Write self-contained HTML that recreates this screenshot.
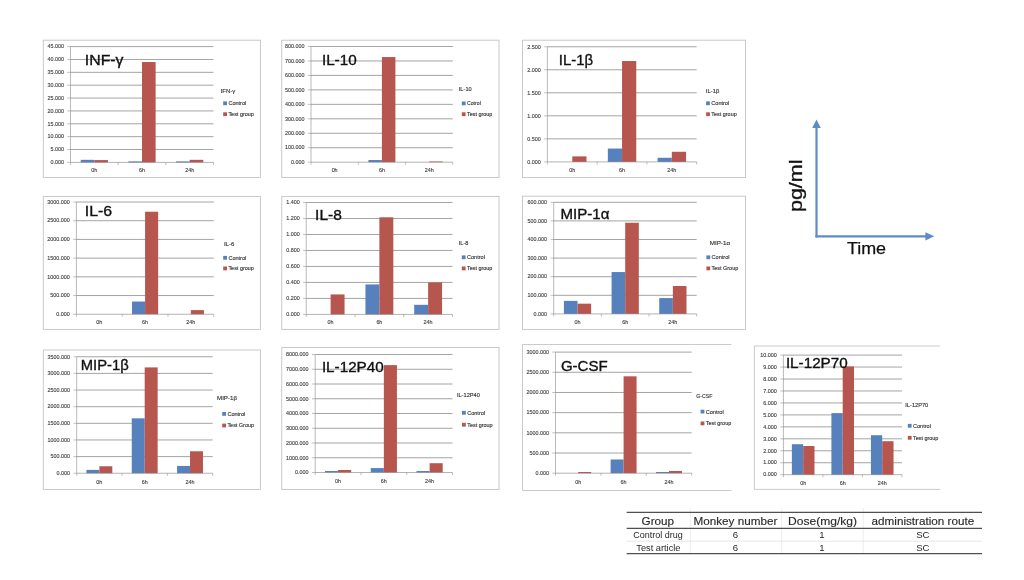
<!DOCTYPE html>
<html lang="en"><head><meta charset="utf-8"><title>Cytokine charts</title>
<style>
html,body{margin:0;padding:0;background:#fff;}
body{width:1024px;height:580px;overflow:hidden;}
svg{display:block;filter:blur(0.35px);}
.ax{font-family:"Liberation Sans", sans-serif;font-size:5.4px;fill:#404040;stroke:#404040;stroke-width:0.12px;}
.lg{font-family:"Liberation Sans", sans-serif;font-size:5.5px;fill:#383838;stroke:#383838;stroke-width:0.15px;}
.tt{font-family:"Liberation Sans", sans-serif;fill:#111;font-size:14.6px;stroke:#111;stroke-width:0.35px;}
</style></head><body>
<svg width="1024" height="580" viewBox="0 0 1024 580">
<rect width="1024" height="580" fill="#fff"/>
<rect x="43.3" y="40.2" width="217.09999999999997" height="137.3" fill="#fff" stroke="#c4c4c4" stroke-width="0.9"/>
<line x1="67.3" y1="162.40" x2="70.5" y2="162.40" stroke="#808080" stroke-width="0.5"/>
<text x="63.9" y="164.15" text-anchor="end" class="ax">0.000</text>
<line x1="70.5" y1="149.53" x2="213.5" y2="149.53" stroke="#808080" stroke-width="0.72"/>
<line x1="67.3" y1="149.53" x2="70.5" y2="149.53" stroke="#808080" stroke-width="0.5"/>
<text x="63.9" y="151.28" text-anchor="end" class="ax">5.000</text>
<line x1="70.5" y1="136.67" x2="213.5" y2="136.67" stroke="#808080" stroke-width="0.72"/>
<line x1="67.3" y1="136.67" x2="70.5" y2="136.67" stroke="#808080" stroke-width="0.5"/>
<text x="63.9" y="138.42" text-anchor="end" class="ax">10.000</text>
<line x1="70.5" y1="123.80" x2="213.5" y2="123.80" stroke="#808080" stroke-width="0.72"/>
<line x1="67.3" y1="123.80" x2="70.5" y2="123.80" stroke="#808080" stroke-width="0.5"/>
<text x="63.9" y="125.55" text-anchor="end" class="ax">15.000</text>
<line x1="70.5" y1="110.93" x2="213.5" y2="110.93" stroke="#808080" stroke-width="0.72"/>
<line x1="67.3" y1="110.93" x2="70.5" y2="110.93" stroke="#808080" stroke-width="0.5"/>
<text x="63.9" y="112.68" text-anchor="end" class="ax">20.000</text>
<line x1="70.5" y1="98.07" x2="213.5" y2="98.07" stroke="#808080" stroke-width="0.72"/>
<line x1="67.3" y1="98.07" x2="70.5" y2="98.07" stroke="#808080" stroke-width="0.5"/>
<text x="63.9" y="99.82" text-anchor="end" class="ax">25.000</text>
<line x1="70.5" y1="85.20" x2="213.5" y2="85.20" stroke="#808080" stroke-width="0.72"/>
<line x1="67.3" y1="85.20" x2="70.5" y2="85.20" stroke="#808080" stroke-width="0.5"/>
<text x="63.9" y="86.95" text-anchor="end" class="ax">30.000</text>
<line x1="70.5" y1="72.33" x2="213.5" y2="72.33" stroke="#808080" stroke-width="0.72"/>
<line x1="67.3" y1="72.33" x2="70.5" y2="72.33" stroke="#808080" stroke-width="0.5"/>
<text x="63.9" y="74.08" text-anchor="end" class="ax">35.000</text>
<line x1="70.5" y1="59.47" x2="213.5" y2="59.47" stroke="#808080" stroke-width="0.72"/>
<line x1="67.3" y1="59.47" x2="70.5" y2="59.47" stroke="#808080" stroke-width="0.5"/>
<text x="63.9" y="61.22" text-anchor="end" class="ax">40.000</text>
<line x1="70.5" y1="46.60" x2="213.5" y2="46.60" stroke="#808080" stroke-width="0.72"/>
<line x1="67.3" y1="46.60" x2="70.5" y2="46.60" stroke="#808080" stroke-width="0.5"/>
<text x="63.9" y="48.35" text-anchor="end" class="ax">45.000</text>
<rect x="80.71" y="159.83" width="13.62" height="2.57" fill="#5781bc"/>
<rect x="94.33" y="160.08" width="13.62" height="2.32" fill="#b6564f"/>
<text x="94.33" y="172.0" text-anchor="middle" class="ax">0h</text>
<rect x="128.38" y="161.37" width="13.62" height="1.03" fill="#5781bc"/>
<rect x="142.00" y="62.04" width="13.62" height="100.36" fill="#b6564f"/>
<text x="142.00" y="172.0" text-anchor="middle" class="ax">6h</text>
<rect x="176.05" y="161.37" width="13.62" height="1.03" fill="#5781bc"/>
<rect x="189.67" y="159.83" width="13.62" height="2.57" fill="#b6564f"/>
<text x="189.67" y="172.0" text-anchor="middle" class="ax">24h</text>
<line x1="70.5" y1="46.6" x2="70.5" y2="162.4" stroke="#808080" stroke-width="0.55"/>
<line x1="70.5" y1="162.4" x2="213.5" y2="162.4" stroke="#808080" stroke-width="0.6"/>
<line x1="70.50" y1="162.4" x2="70.50" y2="165.0" stroke="#808080" stroke-width="0.5"/>
<line x1="118.17" y1="162.4" x2="118.17" y2="165.0" stroke="#808080" stroke-width="0.5"/>
<line x1="165.83" y1="162.4" x2="165.83" y2="165.0" stroke="#808080" stroke-width="0.5"/>
<line x1="213.50" y1="162.4" x2="213.50" y2="165.0" stroke="#808080" stroke-width="0.5"/>
<text x="220.7" y="92.9" class="lg" textLength="14.6" lengthAdjust="spacingAndGlyphs">IFN-γ</text>
<rect x="223.2" y="101.39999999999999" width="3.8" height="3.8" fill="#5781bc"/>
<text x="228.39999999999998" y="105.2" class="lg" textLength="17.9" lengthAdjust="spacingAndGlyphs">Control</text>
<rect x="223.2" y="112.3" width="3.8" height="3.8" fill="#b6564f"/>
<text x="228.39999999999998" y="116.10000000000001" class="lg" textLength="25.4" lengthAdjust="spacingAndGlyphs">Test group</text>
<text x="84.80" y="64.75" class="tt" textLength="38.7" lengthAdjust="spacingAndGlyphs">INF-γ</text>
<rect x="281.75" y="40.2" width="217.25" height="137.3" fill="#fff" stroke="#c4c4c4" stroke-width="0.9"/>
<line x1="307.8" y1="162.20" x2="311" y2="162.20" stroke="#808080" stroke-width="0.5"/>
<text x="304.4" y="163.95" text-anchor="end" class="ax">0.000</text>
<line x1="311" y1="147.74" x2="452.8" y2="147.74" stroke="#808080" stroke-width="0.72"/>
<line x1="307.8" y1="147.74" x2="311" y2="147.74" stroke="#808080" stroke-width="0.5"/>
<text x="304.4" y="149.49" text-anchor="end" class="ax">100.000</text>
<line x1="311" y1="133.27" x2="452.8" y2="133.27" stroke="#808080" stroke-width="0.72"/>
<line x1="307.8" y1="133.27" x2="311" y2="133.27" stroke="#808080" stroke-width="0.5"/>
<text x="304.4" y="135.02" text-anchor="end" class="ax">200.000</text>
<line x1="311" y1="118.81" x2="452.8" y2="118.81" stroke="#808080" stroke-width="0.72"/>
<line x1="307.8" y1="118.81" x2="311" y2="118.81" stroke="#808080" stroke-width="0.5"/>
<text x="304.4" y="120.56" text-anchor="end" class="ax">300.000</text>
<line x1="311" y1="104.35" x2="452.8" y2="104.35" stroke="#808080" stroke-width="0.72"/>
<line x1="307.8" y1="104.35" x2="311" y2="104.35" stroke="#808080" stroke-width="0.5"/>
<text x="304.4" y="106.10" text-anchor="end" class="ax">400.000</text>
<line x1="311" y1="89.89" x2="452.8" y2="89.89" stroke="#808080" stroke-width="0.72"/>
<line x1="307.8" y1="89.89" x2="311" y2="89.89" stroke="#808080" stroke-width="0.5"/>
<text x="304.4" y="91.64" text-anchor="end" class="ax">500.000</text>
<line x1="311" y1="75.42" x2="452.8" y2="75.42" stroke="#808080" stroke-width="0.72"/>
<line x1="307.8" y1="75.42" x2="311" y2="75.42" stroke="#808080" stroke-width="0.5"/>
<text x="304.4" y="77.17" text-anchor="end" class="ax">600.000</text>
<line x1="311" y1="60.96" x2="452.8" y2="60.96" stroke="#808080" stroke-width="0.72"/>
<line x1="307.8" y1="60.96" x2="311" y2="60.96" stroke="#808080" stroke-width="0.5"/>
<text x="304.4" y="62.71" text-anchor="end" class="ax">700.000</text>
<line x1="311" y1="46.50" x2="452.8" y2="46.50" stroke="#808080" stroke-width="0.72"/>
<line x1="307.8" y1="46.50" x2="311" y2="46.50" stroke="#808080" stroke-width="0.5"/>
<text x="304.4" y="48.25" text-anchor="end" class="ax">800.000</text>
<text x="334.63" y="172.0" text-anchor="middle" class="ax">0h</text>
<rect x="368.40" y="160.03" width="13.50" height="2.17" fill="#5781bc"/>
<rect x="381.90" y="57.06" width="13.50" height="105.14" fill="#b6564f"/>
<text x="381.90" y="172.0" text-anchor="middle" class="ax">6h</text>
<rect x="429.17" y="161.48" width="13.50" height="0.72" fill="#b6564f"/>
<text x="429.17" y="172.0" text-anchor="middle" class="ax">24h</text>
<line x1="311" y1="46.5" x2="311" y2="162.2" stroke="#808080" stroke-width="0.55"/>
<line x1="311" y1="162.2" x2="452.8" y2="162.2" stroke="#808080" stroke-width="0.6"/>
<line x1="311.00" y1="162.2" x2="311.00" y2="164.79999999999998" stroke="#808080" stroke-width="0.5"/>
<line x1="358.27" y1="162.2" x2="358.27" y2="164.79999999999998" stroke="#808080" stroke-width="0.5"/>
<line x1="405.53" y1="162.2" x2="405.53" y2="164.79999999999998" stroke="#808080" stroke-width="0.5"/>
<line x1="452.80" y1="162.2" x2="452.80" y2="164.79999999999998" stroke="#808080" stroke-width="0.5"/>
<text x="458.8" y="90.7" class="lg" textLength="12.9" lengthAdjust="spacingAndGlyphs">IL-10</text>
<rect x="461.8" y="101.5" width="3.8" height="3.8" fill="#5781bc"/>
<text x="467.0" y="105.30000000000001" class="lg" textLength="13.8" lengthAdjust="spacingAndGlyphs">Cotrol</text>
<rect x="461.8" y="112.3" width="3.8" height="3.8" fill="#b6564f"/>
<text x="467.0" y="116.10000000000001" class="lg" textLength="25.4" lengthAdjust="spacingAndGlyphs">Test group</text>
<text x="321.90" y="64.75" class="tt" textLength="34.8" lengthAdjust="spacingAndGlyphs">IL-10</text>
<rect x="522.5" y="40.2" width="223.10000000000002" height="137.3" fill="#fff" stroke="#c4c4c4" stroke-width="0.9"/>
<line x1="544.1999999999999" y1="161.90" x2="547.4" y2="161.90" stroke="#808080" stroke-width="0.5"/>
<text x="540.8" y="163.65" text-anchor="end" class="ax">0.000</text>
<line x1="547.4" y1="138.87" x2="696.7" y2="138.87" stroke="#808080" stroke-width="0.72"/>
<line x1="544.1999999999999" y1="138.87" x2="547.4" y2="138.87" stroke="#808080" stroke-width="0.5"/>
<text x="540.8" y="140.62" text-anchor="end" class="ax">0.500</text>
<line x1="547.4" y1="115.84" x2="696.7" y2="115.84" stroke="#808080" stroke-width="0.72"/>
<line x1="544.1999999999999" y1="115.84" x2="547.4" y2="115.84" stroke="#808080" stroke-width="0.5"/>
<text x="540.8" y="117.59" text-anchor="end" class="ax">1.000</text>
<line x1="547.4" y1="92.81" x2="696.7" y2="92.81" stroke="#808080" stroke-width="0.72"/>
<line x1="544.1999999999999" y1="92.81" x2="547.4" y2="92.81" stroke="#808080" stroke-width="0.5"/>
<text x="540.8" y="94.56" text-anchor="end" class="ax">1.500</text>
<line x1="547.4" y1="69.78" x2="696.7" y2="69.78" stroke="#808080" stroke-width="0.72"/>
<line x1="544.1999999999999" y1="69.78" x2="547.4" y2="69.78" stroke="#808080" stroke-width="0.5"/>
<text x="540.8" y="71.53" text-anchor="end" class="ax">2.000</text>
<line x1="547.4" y1="46.75" x2="696.7" y2="46.75" stroke="#808080" stroke-width="0.72"/>
<line x1="544.1999999999999" y1="46.75" x2="547.4" y2="46.75" stroke="#808080" stroke-width="0.5"/>
<text x="540.8" y="48.50" text-anchor="end" class="ax">2.500</text>
<rect x="572.28" y="156.37" width="14.22" height="5.53" fill="#b6564f"/>
<text x="572.28" y="172.0" text-anchor="middle" class="ax">0h</text>
<rect x="607.83" y="148.54" width="14.22" height="13.36" fill="#5781bc"/>
<rect x="622.05" y="61.03" width="14.22" height="100.87" fill="#b6564f"/>
<text x="622.05" y="172.0" text-anchor="middle" class="ax">6h</text>
<rect x="657.60" y="157.75" width="14.22" height="4.15" fill="#5781bc"/>
<rect x="671.82" y="151.77" width="14.22" height="10.13" fill="#b6564f"/>
<text x="671.82" y="172.0" text-anchor="middle" class="ax">24h</text>
<line x1="547.4" y1="46.75" x2="547.4" y2="161.9" stroke="#808080" stroke-width="0.55"/>
<line x1="547.4" y1="161.9" x2="696.7" y2="161.9" stroke="#808080" stroke-width="0.6"/>
<line x1="547.40" y1="161.9" x2="547.40" y2="164.5" stroke="#808080" stroke-width="0.5"/>
<line x1="597.17" y1="161.9" x2="597.17" y2="164.5" stroke="#808080" stroke-width="0.5"/>
<line x1="646.93" y1="161.9" x2="646.93" y2="164.5" stroke="#808080" stroke-width="0.5"/>
<line x1="696.70" y1="161.9" x2="696.70" y2="164.5" stroke="#808080" stroke-width="0.5"/>
<text x="705.8" y="92.9" class="lg" textLength="13.5" lengthAdjust="spacingAndGlyphs">IL-1β</text>
<rect x="706.1" y="101.39999999999999" width="3.8" height="3.8" fill="#5781bc"/>
<text x="711.3000000000001" y="105.2" class="lg" textLength="17.9" lengthAdjust="spacingAndGlyphs">Control</text>
<rect x="706.1" y="112.3" width="3.8" height="3.8" fill="#b6564f"/>
<text x="711.3000000000001" y="116.10000000000001" class="lg" textLength="25.4" lengthAdjust="spacingAndGlyphs">Test group</text>
<text x="558.80" y="64.75" class="tt" textLength="34.3" lengthAdjust="spacingAndGlyphs">IL-1β</text>
<rect x="43.3" y="196.4" width="217.09999999999997" height="132.99999999999997" fill="#fff" stroke="#c4c4c4" stroke-width="0.9"/>
<line x1="73.2" y1="314.25" x2="76.4" y2="314.25" stroke="#808080" stroke-width="0.5"/>
<text x="69.80000000000001" y="316.00" text-anchor="end" class="ax">0.000</text>
<line x1="76.4" y1="295.54" x2="213.75" y2="295.54" stroke="#808080" stroke-width="0.72"/>
<line x1="73.2" y1="295.54" x2="76.4" y2="295.54" stroke="#808080" stroke-width="0.5"/>
<text x="69.80000000000001" y="297.29" text-anchor="end" class="ax">500.000</text>
<line x1="76.4" y1="276.83" x2="213.75" y2="276.83" stroke="#808080" stroke-width="0.72"/>
<line x1="73.2" y1="276.83" x2="76.4" y2="276.83" stroke="#808080" stroke-width="0.5"/>
<text x="69.80000000000001" y="278.58" text-anchor="end" class="ax">1000.000</text>
<line x1="76.4" y1="258.12" x2="213.75" y2="258.12" stroke="#808080" stroke-width="0.72"/>
<line x1="73.2" y1="258.12" x2="76.4" y2="258.12" stroke="#808080" stroke-width="0.5"/>
<text x="69.80000000000001" y="259.88" text-anchor="end" class="ax">1500.000</text>
<line x1="76.4" y1="239.42" x2="213.75" y2="239.42" stroke="#808080" stroke-width="0.72"/>
<line x1="73.2" y1="239.42" x2="76.4" y2="239.42" stroke="#808080" stroke-width="0.5"/>
<text x="69.80000000000001" y="241.17" text-anchor="end" class="ax">2000.000</text>
<line x1="76.4" y1="220.71" x2="213.75" y2="220.71" stroke="#808080" stroke-width="0.72"/>
<line x1="73.2" y1="220.71" x2="76.4" y2="220.71" stroke="#808080" stroke-width="0.5"/>
<text x="69.80000000000001" y="222.46" text-anchor="end" class="ax">2500.000</text>
<line x1="76.4" y1="202.00" x2="213.75" y2="202.00" stroke="#808080" stroke-width="0.72"/>
<line x1="73.2" y1="202.00" x2="76.4" y2="202.00" stroke="#808080" stroke-width="0.5"/>
<text x="69.80000000000001" y="203.75" text-anchor="end" class="ax">3000.000</text>
<text x="99.29" y="324.0" text-anchor="middle" class="ax">0h</text>
<rect x="131.99" y="301.53" width="13.08" height="12.72" fill="#5781bc"/>
<rect x="145.07" y="211.73" width="13.08" height="102.52" fill="#b6564f"/>
<text x="145.07" y="324.0" text-anchor="middle" class="ax">6h</text>
<rect x="190.86" y="310.13" width="13.08" height="4.12" fill="#b6564f"/>
<text x="190.86" y="324.0" text-anchor="middle" class="ax">24h</text>
<line x1="76.4" y1="202" x2="76.4" y2="314.25" stroke="#808080" stroke-width="0.55"/>
<line x1="76.4" y1="314.25" x2="213.75" y2="314.25" stroke="#808080" stroke-width="0.6"/>
<line x1="76.40" y1="314.25" x2="76.40" y2="316.85" stroke="#808080" stroke-width="0.5"/>
<line x1="122.18" y1="314.25" x2="122.18" y2="316.85" stroke="#808080" stroke-width="0.5"/>
<line x1="167.97" y1="314.25" x2="167.97" y2="316.85" stroke="#808080" stroke-width="0.5"/>
<line x1="213.75" y1="314.25" x2="213.75" y2="316.85" stroke="#808080" stroke-width="0.5"/>
<text x="223.9" y="245.9" class="lg" textLength="10.4" lengthAdjust="spacingAndGlyphs">IL-6</text>
<rect x="223.2" y="255.9" width="3.8" height="3.8" fill="#5781bc"/>
<text x="228.39999999999998" y="259.7" class="lg" textLength="17.9" lengthAdjust="spacingAndGlyphs">Control</text>
<rect x="223.2" y="266.5" width="3.8" height="3.8" fill="#b6564f"/>
<text x="228.39999999999998" y="270.29999999999995" class="lg" textLength="25.4" lengthAdjust="spacingAndGlyphs">Test group</text>
<text x="84.80" y="216.1" class="tt" textLength="27.4" lengthAdjust="spacingAndGlyphs">IL-6</text>
<rect x="281.75" y="196.4" width="217.25" height="132.99999999999997" fill="#fff" stroke="#c4c4c4" stroke-width="0.9"/>
<line x1="303.05" y1="314.40" x2="306.25" y2="314.40" stroke="#808080" stroke-width="0.5"/>
<text x="299.65" y="316.15" text-anchor="end" class="ax">0.000</text>
<line x1="306.25" y1="298.41" x2="452.5" y2="298.41" stroke="#808080" stroke-width="0.72"/>
<line x1="303.05" y1="298.41" x2="306.25" y2="298.41" stroke="#808080" stroke-width="0.5"/>
<text x="299.65" y="300.16" text-anchor="end" class="ax">0.200</text>
<line x1="306.25" y1="282.43" x2="452.5" y2="282.43" stroke="#808080" stroke-width="0.72"/>
<line x1="303.05" y1="282.43" x2="306.25" y2="282.43" stroke="#808080" stroke-width="0.5"/>
<text x="299.65" y="284.18" text-anchor="end" class="ax">0.400</text>
<line x1="306.25" y1="266.44" x2="452.5" y2="266.44" stroke="#808080" stroke-width="0.72"/>
<line x1="303.05" y1="266.44" x2="306.25" y2="266.44" stroke="#808080" stroke-width="0.5"/>
<text x="299.65" y="268.19" text-anchor="end" class="ax">0.600</text>
<line x1="306.25" y1="250.46" x2="452.5" y2="250.46" stroke="#808080" stroke-width="0.72"/>
<line x1="303.05" y1="250.46" x2="306.25" y2="250.46" stroke="#808080" stroke-width="0.5"/>
<text x="299.65" y="252.21" text-anchor="end" class="ax">0.800</text>
<line x1="306.25" y1="234.47" x2="452.5" y2="234.47" stroke="#808080" stroke-width="0.72"/>
<line x1="303.05" y1="234.47" x2="306.25" y2="234.47" stroke="#808080" stroke-width="0.5"/>
<text x="299.65" y="236.22" text-anchor="end" class="ax">1.000</text>
<line x1="306.25" y1="218.49" x2="452.5" y2="218.49" stroke="#808080" stroke-width="0.72"/>
<line x1="303.05" y1="218.49" x2="306.25" y2="218.49" stroke="#808080" stroke-width="0.5"/>
<text x="299.65" y="220.24" text-anchor="end" class="ax">1.200</text>
<line x1="306.25" y1="202.50" x2="452.5" y2="202.50" stroke="#808080" stroke-width="0.72"/>
<line x1="303.05" y1="202.50" x2="306.25" y2="202.50" stroke="#808080" stroke-width="0.5"/>
<text x="299.65" y="204.25" text-anchor="end" class="ax">1.400</text>
<rect x="330.62" y="294.42" width="13.93" height="19.98" fill="#b6564f"/>
<text x="330.62" y="324.0" text-anchor="middle" class="ax">0h</text>
<rect x="365.45" y="284.43" width="13.93" height="29.97" fill="#5781bc"/>
<rect x="379.38" y="217.29" width="13.93" height="97.11" fill="#b6564f"/>
<text x="379.38" y="324.0" text-anchor="middle" class="ax">6h</text>
<rect x="414.20" y="304.81" width="13.93" height="9.59" fill="#5781bc"/>
<rect x="428.12" y="282.43" width="13.93" height="31.97" fill="#b6564f"/>
<text x="428.12" y="324.0" text-anchor="middle" class="ax">24h</text>
<line x1="306.25" y1="202.5" x2="306.25" y2="314.4" stroke="#808080" stroke-width="0.55"/>
<line x1="306.25" y1="314.4" x2="452.5" y2="314.4" stroke="#808080" stroke-width="0.6"/>
<line x1="306.25" y1="314.4" x2="306.25" y2="317.0" stroke="#808080" stroke-width="0.5"/>
<line x1="355.00" y1="314.4" x2="355.00" y2="317.0" stroke="#808080" stroke-width="0.5"/>
<line x1="403.75" y1="314.4" x2="403.75" y2="317.0" stroke="#808080" stroke-width="0.5"/>
<line x1="452.50" y1="314.4" x2="452.50" y2="317.0" stroke="#808080" stroke-width="0.5"/>
<text x="458.8" y="245.0" class="lg" textLength="9.5" lengthAdjust="spacingAndGlyphs">IL-8</text>
<rect x="461.8" y="255.4" width="3.8" height="3.8" fill="#5781bc"/>
<text x="467.0" y="259.2" class="lg" textLength="17.9" lengthAdjust="spacingAndGlyphs">Control</text>
<rect x="461.8" y="266.5" width="3.8" height="3.8" fill="#b6564f"/>
<text x="467.0" y="270.29999999999995" class="lg" textLength="25.4" lengthAdjust="spacingAndGlyphs">Test group</text>
<text x="315.10" y="220.2" class="tt" textLength="26.7" lengthAdjust="spacingAndGlyphs">IL-8</text>
<rect x="522.5" y="196.2" width="223.0" height="133.2" fill="#fff" stroke="#c4c4c4" stroke-width="0.9"/>
<line x1="550.5" y1="313.90" x2="553.7" y2="313.90" stroke="#808080" stroke-width="0.5"/>
<text x="547.1" y="315.65" text-anchor="end" class="ax">0.000</text>
<line x1="553.7" y1="295.30" x2="696.7" y2="295.30" stroke="#808080" stroke-width="0.72"/>
<line x1="550.5" y1="295.30" x2="553.7" y2="295.30" stroke="#808080" stroke-width="0.5"/>
<text x="547.1" y="297.05" text-anchor="end" class="ax">100.000</text>
<line x1="553.7" y1="276.70" x2="696.7" y2="276.70" stroke="#808080" stroke-width="0.72"/>
<line x1="550.5" y1="276.70" x2="553.7" y2="276.70" stroke="#808080" stroke-width="0.5"/>
<text x="547.1" y="278.45" text-anchor="end" class="ax">200.000</text>
<line x1="553.7" y1="258.10" x2="696.7" y2="258.10" stroke="#808080" stroke-width="0.72"/>
<line x1="550.5" y1="258.10" x2="553.7" y2="258.10" stroke="#808080" stroke-width="0.5"/>
<text x="547.1" y="259.85" text-anchor="end" class="ax">300.000</text>
<line x1="553.7" y1="239.50" x2="696.7" y2="239.50" stroke="#808080" stroke-width="0.72"/>
<line x1="550.5" y1="239.50" x2="553.7" y2="239.50" stroke="#808080" stroke-width="0.5"/>
<text x="547.1" y="241.25" text-anchor="end" class="ax">400.000</text>
<line x1="553.7" y1="220.90" x2="696.7" y2="220.90" stroke="#808080" stroke-width="0.72"/>
<line x1="550.5" y1="220.90" x2="553.7" y2="220.90" stroke="#808080" stroke-width="0.5"/>
<text x="547.1" y="222.65" text-anchor="end" class="ax">500.000</text>
<line x1="553.7" y1="202.30" x2="696.7" y2="202.30" stroke="#808080" stroke-width="0.72"/>
<line x1="550.5" y1="202.30" x2="553.7" y2="202.30" stroke="#808080" stroke-width="0.5"/>
<text x="547.1" y="204.05" text-anchor="end" class="ax">600.000</text>
<rect x="563.91" y="300.88" width="13.62" height="13.02" fill="#5781bc"/>
<rect x="577.53" y="303.67" width="13.62" height="10.23" fill="#b6564f"/>
<text x="577.53" y="324.0" text-anchor="middle" class="ax">0h</text>
<rect x="611.58" y="272.05" width="13.62" height="41.85" fill="#5781bc"/>
<rect x="625.20" y="222.76" width="13.62" height="91.14" fill="#b6564f"/>
<text x="625.20" y="324.0" text-anchor="middle" class="ax">6h</text>
<rect x="659.25" y="298.09" width="13.62" height="15.81" fill="#5781bc"/>
<rect x="672.87" y="286.00" width="13.62" height="27.90" fill="#b6564f"/>
<text x="672.87" y="324.0" text-anchor="middle" class="ax">24h</text>
<line x1="553.7" y1="202.3" x2="553.7" y2="313.9" stroke="#808080" stroke-width="0.55"/>
<line x1="553.7" y1="313.9" x2="696.7" y2="313.9" stroke="#808080" stroke-width="0.6"/>
<line x1="553.70" y1="313.9" x2="553.70" y2="316.5" stroke="#808080" stroke-width="0.5"/>
<line x1="601.37" y1="313.9" x2="601.37" y2="316.5" stroke="#808080" stroke-width="0.5"/>
<line x1="649.03" y1="313.9" x2="649.03" y2="316.5" stroke="#808080" stroke-width="0.5"/>
<line x1="696.70" y1="313.9" x2="696.70" y2="316.5" stroke="#808080" stroke-width="0.5"/>
<text x="709.7" y="244.6" class="lg" textLength="20.4" lengthAdjust="spacingAndGlyphs">MIP-1α</text>
<rect x="706.4" y="255.4" width="3.8" height="3.8" fill="#5781bc"/>
<text x="711.6" y="259.2" class="lg" textLength="17.9" lengthAdjust="spacingAndGlyphs">Control</text>
<rect x="706.4" y="266.5" width="3.8" height="3.8" fill="#b6564f"/>
<text x="711.6" y="270.29999999999995" class="lg" textLength="26.6" lengthAdjust="spacingAndGlyphs">Test Group</text>
<text x="560.40" y="218.6" class="tt" textLength="49.0" lengthAdjust="spacingAndGlyphs">MIP-1α</text>
<rect x="43.3" y="350" width="217.09999999999997" height="139.5" fill="#fff" stroke="#c4c4c4" stroke-width="0.9"/>
<line x1="73.5" y1="473.25" x2="76.7" y2="473.25" stroke="#808080" stroke-width="0.5"/>
<text x="70.10000000000001" y="475.00" text-anchor="end" class="ax">0.000</text>
<line x1="76.7" y1="456.61" x2="212.7" y2="456.61" stroke="#808080" stroke-width="0.72"/>
<line x1="73.5" y1="456.61" x2="76.7" y2="456.61" stroke="#808080" stroke-width="0.5"/>
<text x="70.10000000000001" y="458.36" text-anchor="end" class="ax">500.000</text>
<line x1="76.7" y1="439.96" x2="212.7" y2="439.96" stroke="#808080" stroke-width="0.72"/>
<line x1="73.5" y1="439.96" x2="76.7" y2="439.96" stroke="#808080" stroke-width="0.5"/>
<text x="70.10000000000001" y="441.71" text-anchor="end" class="ax">1000.000</text>
<line x1="76.7" y1="423.32" x2="212.7" y2="423.32" stroke="#808080" stroke-width="0.72"/>
<line x1="73.5" y1="423.32" x2="76.7" y2="423.32" stroke="#808080" stroke-width="0.5"/>
<text x="70.10000000000001" y="425.07" text-anchor="end" class="ax">1500.000</text>
<line x1="76.7" y1="406.68" x2="212.7" y2="406.68" stroke="#808080" stroke-width="0.72"/>
<line x1="73.5" y1="406.68" x2="76.7" y2="406.68" stroke="#808080" stroke-width="0.5"/>
<text x="70.10000000000001" y="408.43" text-anchor="end" class="ax">2000.000</text>
<line x1="76.7" y1="390.04" x2="212.7" y2="390.04" stroke="#808080" stroke-width="0.72"/>
<line x1="73.5" y1="390.04" x2="76.7" y2="390.04" stroke="#808080" stroke-width="0.5"/>
<text x="70.10000000000001" y="391.79" text-anchor="end" class="ax">2500.000</text>
<line x1="76.7" y1="373.39" x2="212.7" y2="373.39" stroke="#808080" stroke-width="0.72"/>
<line x1="73.5" y1="373.39" x2="76.7" y2="373.39" stroke="#808080" stroke-width="0.5"/>
<text x="70.10000000000001" y="375.14" text-anchor="end" class="ax">3000.000</text>
<line x1="76.7" y1="356.75" x2="212.7" y2="356.75" stroke="#808080" stroke-width="0.72"/>
<line x1="73.5" y1="356.75" x2="76.7" y2="356.75" stroke="#808080" stroke-width="0.5"/>
<text x="70.10000000000001" y="358.50" text-anchor="end" class="ax">3500.000</text>
<rect x="86.41" y="469.92" width="12.95" height="3.33" fill="#5781bc"/>
<rect x="99.37" y="466.26" width="12.95" height="6.99" fill="#b6564f"/>
<text x="99.37" y="483.5" text-anchor="middle" class="ax">0h</text>
<rect x="131.75" y="418.33" width="12.95" height="54.92" fill="#5781bc"/>
<rect x="144.70" y="367.40" width="12.95" height="105.85" fill="#b6564f"/>
<text x="144.70" y="483.5" text-anchor="middle" class="ax">6h</text>
<rect x="177.08" y="465.93" width="12.95" height="7.32" fill="#5781bc"/>
<rect x="190.03" y="451.28" width="12.95" height="21.97" fill="#b6564f"/>
<text x="190.03" y="483.5" text-anchor="middle" class="ax">24h</text>
<line x1="76.7" y1="356.75" x2="76.7" y2="473.25" stroke="#808080" stroke-width="0.55"/>
<line x1="76.7" y1="473.25" x2="212.7" y2="473.25" stroke="#808080" stroke-width="0.6"/>
<line x1="76.70" y1="473.25" x2="76.70" y2="475.85" stroke="#808080" stroke-width="0.5"/>
<line x1="122.03" y1="473.25" x2="122.03" y2="475.85" stroke="#808080" stroke-width="0.5"/>
<line x1="167.37" y1="473.25" x2="167.37" y2="475.85" stroke="#808080" stroke-width="0.5"/>
<line x1="212.70" y1="473.25" x2="212.70" y2="475.85" stroke="#808080" stroke-width="0.5"/>
<text x="217" y="400.4" class="lg" textLength="20.0" lengthAdjust="spacingAndGlyphs">MIP-1β</text>
<rect x="222.2" y="412.0" width="3.8" height="3.8" fill="#5781bc"/>
<text x="227.39999999999998" y="415.79999999999995" class="lg" textLength="17.9" lengthAdjust="spacingAndGlyphs">Control</text>
<rect x="222.2" y="423.6" width="3.8" height="3.8" fill="#b6564f"/>
<text x="227.39999999999998" y="427.4" class="lg" textLength="26.6" lengthAdjust="spacingAndGlyphs">Test Group</text>
<text x="80.70" y="369.9" class="tt" textLength="48.0" lengthAdjust="spacingAndGlyphs">MIP-1β</text>
<rect x="281.75" y="347.5" width="217.25" height="142.0" fill="#fff" stroke="#c4c4c4" stroke-width="0.9"/>
<line x1="312.0" y1="472.50" x2="315.2" y2="472.50" stroke="#808080" stroke-width="0.5"/>
<text x="308.59999999999997" y="474.25" text-anchor="end" class="ax">0.000</text>
<line x1="315.2" y1="457.75" x2="452.5" y2="457.75" stroke="#808080" stroke-width="0.72"/>
<line x1="312.0" y1="457.75" x2="315.2" y2="457.75" stroke="#808080" stroke-width="0.5"/>
<text x="308.59999999999997" y="459.50" text-anchor="end" class="ax">1000.000</text>
<line x1="315.2" y1="443.00" x2="452.5" y2="443.00" stroke="#808080" stroke-width="0.72"/>
<line x1="312.0" y1="443.00" x2="315.2" y2="443.00" stroke="#808080" stroke-width="0.5"/>
<text x="308.59999999999997" y="444.75" text-anchor="end" class="ax">2000.000</text>
<line x1="315.2" y1="428.25" x2="452.5" y2="428.25" stroke="#808080" stroke-width="0.72"/>
<line x1="312.0" y1="428.25" x2="315.2" y2="428.25" stroke="#808080" stroke-width="0.5"/>
<text x="308.59999999999997" y="430.00" text-anchor="end" class="ax">3000.000</text>
<line x1="315.2" y1="413.50" x2="452.5" y2="413.50" stroke="#808080" stroke-width="0.72"/>
<line x1="312.0" y1="413.50" x2="315.2" y2="413.50" stroke="#808080" stroke-width="0.5"/>
<text x="308.59999999999997" y="415.25" text-anchor="end" class="ax">4000.000</text>
<line x1="315.2" y1="398.75" x2="452.5" y2="398.75" stroke="#808080" stroke-width="0.72"/>
<line x1="312.0" y1="398.75" x2="315.2" y2="398.75" stroke="#808080" stroke-width="0.5"/>
<text x="308.59999999999997" y="400.50" text-anchor="end" class="ax">5000.000</text>
<line x1="315.2" y1="384.00" x2="452.5" y2="384.00" stroke="#808080" stroke-width="0.72"/>
<line x1="312.0" y1="384.00" x2="315.2" y2="384.00" stroke="#808080" stroke-width="0.5"/>
<text x="308.59999999999997" y="385.75" text-anchor="end" class="ax">6000.000</text>
<line x1="315.2" y1="369.25" x2="452.5" y2="369.25" stroke="#808080" stroke-width="0.72"/>
<line x1="312.0" y1="369.25" x2="315.2" y2="369.25" stroke="#808080" stroke-width="0.5"/>
<text x="308.59999999999997" y="371.00" text-anchor="end" class="ax">7000.000</text>
<line x1="315.2" y1="354.50" x2="452.5" y2="354.50" stroke="#808080" stroke-width="0.72"/>
<line x1="312.0" y1="354.50" x2="315.2" y2="354.50" stroke="#808080" stroke-width="0.5"/>
<text x="308.59999999999997" y="356.25" text-anchor="end" class="ax">8000.000</text>
<rect x="325.01" y="471.02" width="13.08" height="1.48" fill="#5781bc"/>
<rect x="338.08" y="469.99" width="13.08" height="2.51" fill="#b6564f"/>
<text x="338.08" y="483.2" text-anchor="middle" class="ax">0h</text>
<rect x="370.77" y="468.07" width="13.08" height="4.42" fill="#5781bc"/>
<rect x="383.85" y="365.12" width="13.08" height="107.38" fill="#b6564f"/>
<text x="383.85" y="483.2" text-anchor="middle" class="ax">6h</text>
<rect x="416.54" y="471.02" width="13.08" height="1.48" fill="#5781bc"/>
<rect x="429.62" y="463.21" width="13.08" height="9.29" fill="#b6564f"/>
<text x="429.62" y="483.2" text-anchor="middle" class="ax">24h</text>
<line x1="315.2" y1="354.5" x2="315.2" y2="472.5" stroke="#808080" stroke-width="0.55"/>
<line x1="315.2" y1="472.5" x2="452.5" y2="472.5" stroke="#808080" stroke-width="0.6"/>
<line x1="315.20" y1="472.5" x2="315.20" y2="475.1" stroke="#808080" stroke-width="0.5"/>
<line x1="360.97" y1="472.5" x2="360.97" y2="475.1" stroke="#808080" stroke-width="0.5"/>
<line x1="406.73" y1="472.5" x2="406.73" y2="475.1" stroke="#808080" stroke-width="0.5"/>
<line x1="452.50" y1="472.5" x2="452.50" y2="475.1" stroke="#808080" stroke-width="0.5"/>
<text x="456.9" y="397.2" class="lg" textLength="23.0" lengthAdjust="spacingAndGlyphs">IL-12P40</text>
<rect x="462" y="410.90000000000003" width="3.8" height="3.8" fill="#5781bc"/>
<text x="467.2" y="414.7" class="lg" textLength="17.9" lengthAdjust="spacingAndGlyphs">Control</text>
<rect x="462" y="422.8" width="3.8" height="3.8" fill="#b6564f"/>
<text x="467.2" y="426.59999999999997" class="lg" textLength="25.4" lengthAdjust="spacingAndGlyphs">Test group</text>
<text x="321.90" y="371.7" class="tt" textLength="61.8" lengthAdjust="spacingAndGlyphs">IL-12P40</text>
<path d="M731.4 344.5H522.5V490.5H731.4" fill="none" stroke="#c4c4c4" stroke-width="0.9"/>
<line x1="552.3" y1="473.20" x2="555.5" y2="473.20" stroke="#808080" stroke-width="0.5"/>
<text x="548.9" y="474.95" text-anchor="end" class="ax">0.000</text>
<line x1="555.5" y1="453.02" x2="691.7" y2="453.02" stroke="#808080" stroke-width="0.72"/>
<line x1="552.3" y1="453.02" x2="555.5" y2="453.02" stroke="#808080" stroke-width="0.5"/>
<text x="548.9" y="454.77" text-anchor="end" class="ax">500.000</text>
<line x1="555.5" y1="432.83" x2="691.7" y2="432.83" stroke="#808080" stroke-width="0.72"/>
<line x1="552.3" y1="432.83" x2="555.5" y2="432.83" stroke="#808080" stroke-width="0.5"/>
<text x="548.9" y="434.58" text-anchor="end" class="ax">1000.000</text>
<line x1="555.5" y1="412.65" x2="691.7" y2="412.65" stroke="#808080" stroke-width="0.72"/>
<line x1="552.3" y1="412.65" x2="555.5" y2="412.65" stroke="#808080" stroke-width="0.5"/>
<text x="548.9" y="414.40" text-anchor="end" class="ax">1500.000</text>
<line x1="555.5" y1="392.47" x2="691.7" y2="392.47" stroke="#808080" stroke-width="0.72"/>
<line x1="552.3" y1="392.47" x2="555.5" y2="392.47" stroke="#808080" stroke-width="0.5"/>
<text x="548.9" y="394.22" text-anchor="end" class="ax">2000.000</text>
<line x1="555.5" y1="372.28" x2="691.7" y2="372.28" stroke="#808080" stroke-width="0.72"/>
<line x1="552.3" y1="372.28" x2="555.5" y2="372.28" stroke="#808080" stroke-width="0.5"/>
<text x="548.9" y="374.03" text-anchor="end" class="ax">2500.000</text>
<line x1="555.5" y1="352.10" x2="691.7" y2="352.10" stroke="#808080" stroke-width="0.72"/>
<line x1="552.3" y1="352.10" x2="555.5" y2="352.10" stroke="#808080" stroke-width="0.5"/>
<text x="548.9" y="353.85" text-anchor="end" class="ax">3000.000</text>
<rect x="578.20" y="471.99" width="12.97" height="1.21" fill="#b6564f"/>
<text x="578.20" y="483.5" text-anchor="middle" class="ax">0h</text>
<rect x="610.63" y="459.48" width="12.97" height="13.72" fill="#5781bc"/>
<rect x="623.60" y="376.32" width="12.97" height="96.88" fill="#b6564f"/>
<text x="623.60" y="483.5" text-anchor="middle" class="ax">6h</text>
<rect x="656.03" y="471.99" width="12.97" height="1.21" fill="#5781bc"/>
<rect x="669.00" y="470.98" width="12.97" height="2.22" fill="#b6564f"/>
<text x="669.00" y="483.5" text-anchor="middle" class="ax">24h</text>
<line x1="555.5" y1="352.1" x2="555.5" y2="473.2" stroke="#808080" stroke-width="0.55"/>
<line x1="555.5" y1="473.2" x2="691.7" y2="473.2" stroke="#808080" stroke-width="0.6"/>
<line x1="555.50" y1="473.2" x2="555.50" y2="475.8" stroke="#808080" stroke-width="0.5"/>
<line x1="600.90" y1="473.2" x2="600.90" y2="475.8" stroke="#808080" stroke-width="0.5"/>
<line x1="646.30" y1="473.2" x2="646.30" y2="475.8" stroke="#808080" stroke-width="0.5"/>
<line x1="691.70" y1="473.2" x2="691.70" y2="475.8" stroke="#808080" stroke-width="0.5"/>
<text x="696.2" y="398.09999999999997" class="lg" textLength="16.2" lengthAdjust="spacingAndGlyphs">G-CSF</text>
<rect x="700.6" y="409.70000000000005" width="3.8" height="3.8" fill="#5781bc"/>
<text x="705.8000000000001" y="413.5" class="lg" textLength="17.9" lengthAdjust="spacingAndGlyphs">Control</text>
<rect x="700.6" y="421.5" width="3.8" height="3.8" fill="#b6564f"/>
<text x="705.8000000000001" y="425.29999999999995" class="lg" textLength="25.4" lengthAdjust="spacingAndGlyphs">Test group</text>
<text x="560.90" y="370.7" class="tt" textLength="46.8" lengthAdjust="spacingAndGlyphs">G-CSF</text>
<path d="M940 346H754.4V489.4H940" fill="none" stroke="#c4c4c4" stroke-width="0.9"/>
<line x1="780.1999999999999" y1="474.70" x2="783.4" y2="474.70" stroke="#808080" stroke-width="0.5"/>
<text x="776.8" y="476.45" text-anchor="end" class="ax">0.000</text>
<line x1="783.4" y1="462.74" x2="902" y2="462.74" stroke="#808080" stroke-width="0.72"/>
<line x1="780.1999999999999" y1="462.74" x2="783.4" y2="462.74" stroke="#808080" stroke-width="0.5"/>
<text x="776.8" y="464.49" text-anchor="end" class="ax">1.000</text>
<line x1="783.4" y1="450.78" x2="902" y2="450.78" stroke="#808080" stroke-width="0.72"/>
<line x1="780.1999999999999" y1="450.78" x2="783.4" y2="450.78" stroke="#808080" stroke-width="0.5"/>
<text x="776.8" y="452.53" text-anchor="end" class="ax">2.000</text>
<line x1="783.4" y1="438.82" x2="902" y2="438.82" stroke="#808080" stroke-width="0.72"/>
<line x1="780.1999999999999" y1="438.82" x2="783.4" y2="438.82" stroke="#808080" stroke-width="0.5"/>
<text x="776.8" y="440.57" text-anchor="end" class="ax">3.000</text>
<line x1="783.4" y1="426.86" x2="902" y2="426.86" stroke="#808080" stroke-width="0.72"/>
<line x1="780.1999999999999" y1="426.86" x2="783.4" y2="426.86" stroke="#808080" stroke-width="0.5"/>
<text x="776.8" y="428.61" text-anchor="end" class="ax">4.000</text>
<line x1="783.4" y1="414.90" x2="902" y2="414.90" stroke="#808080" stroke-width="0.72"/>
<line x1="780.1999999999999" y1="414.90" x2="783.4" y2="414.90" stroke="#808080" stroke-width="0.5"/>
<text x="776.8" y="416.65" text-anchor="end" class="ax">5.000</text>
<line x1="783.4" y1="402.94" x2="902" y2="402.94" stroke="#808080" stroke-width="0.72"/>
<line x1="780.1999999999999" y1="402.94" x2="783.4" y2="402.94" stroke="#808080" stroke-width="0.5"/>
<text x="776.8" y="404.69" text-anchor="end" class="ax">6.000</text>
<line x1="783.4" y1="390.98" x2="902" y2="390.98" stroke="#808080" stroke-width="0.72"/>
<line x1="780.1999999999999" y1="390.98" x2="783.4" y2="390.98" stroke="#808080" stroke-width="0.5"/>
<text x="776.8" y="392.73" text-anchor="end" class="ax">7.000</text>
<line x1="783.4" y1="379.02" x2="902" y2="379.02" stroke="#808080" stroke-width="0.72"/>
<line x1="780.1999999999999" y1="379.02" x2="783.4" y2="379.02" stroke="#808080" stroke-width="0.5"/>
<text x="776.8" y="380.77" text-anchor="end" class="ax">8.000</text>
<line x1="783.4" y1="367.06" x2="902" y2="367.06" stroke="#808080" stroke-width="0.72"/>
<line x1="780.1999999999999" y1="367.06" x2="783.4" y2="367.06" stroke="#808080" stroke-width="0.5"/>
<text x="776.8" y="368.81" text-anchor="end" class="ax">9.000</text>
<line x1="783.4" y1="355.10" x2="902" y2="355.10" stroke="#808080" stroke-width="0.72"/>
<line x1="780.1999999999999" y1="355.10" x2="783.4" y2="355.10" stroke="#808080" stroke-width="0.5"/>
<text x="776.8" y="356.85" text-anchor="end" class="ax">10.000</text>
<rect x="791.87" y="444.20" width="11.30" height="30.50" fill="#5781bc"/>
<rect x="803.17" y="446.00" width="11.30" height="28.70" fill="#b6564f"/>
<text x="803.17" y="485.2" text-anchor="middle" class="ax">0h</text>
<rect x="831.40" y="413.11" width="11.30" height="61.59" fill="#5781bc"/>
<rect x="842.70" y="366.46" width="11.30" height="108.24" fill="#b6564f"/>
<text x="842.70" y="485.2" text-anchor="middle" class="ax">6h</text>
<rect x="870.94" y="435.23" width="11.30" height="39.47" fill="#5781bc"/>
<rect x="882.23" y="441.21" width="11.30" height="33.49" fill="#b6564f"/>
<text x="882.23" y="485.2" text-anchor="middle" class="ax">24h</text>
<line x1="783.4" y1="355.1" x2="783.4" y2="474.7" stroke="#808080" stroke-width="0.55"/>
<line x1="783.4" y1="474.7" x2="902" y2="474.7" stroke="#808080" stroke-width="0.6"/>
<line x1="783.40" y1="474.7" x2="783.40" y2="477.3" stroke="#808080" stroke-width="0.5"/>
<line x1="822.93" y1="474.7" x2="822.93" y2="477.3" stroke="#808080" stroke-width="0.5"/>
<line x1="862.47" y1="474.7" x2="862.47" y2="477.3" stroke="#808080" stroke-width="0.5"/>
<line x1="902.00" y1="474.7" x2="902.00" y2="477.3" stroke="#808080" stroke-width="0.5"/>
<text x="905.3" y="407.4" class="lg" textLength="22.9" lengthAdjust="spacingAndGlyphs">IL-12P70</text>
<rect x="907.8" y="423.90000000000003" width="3.8" height="3.8" fill="#5781bc"/>
<text x="913.0" y="427.7" class="lg" textLength="17.9" lengthAdjust="spacingAndGlyphs">Control</text>
<rect x="907.8" y="435.90000000000003" width="3.8" height="3.8" fill="#b6564f"/>
<text x="913.0" y="439.7" class="lg" textLength="25.4" lengthAdjust="spacingAndGlyphs">Test group</text>
<text x="785.90" y="368.0" class="tt" textLength="61.8" lengthAdjust="spacingAndGlyphs">IL-12P70</text>

<line x1="816.5" y1="126" x2="816.5" y2="237.4" stroke="#5d8cc9" stroke-width="2.2"/>
<line x1="815.4" y1="236.3" x2="927" y2="236.3" stroke="#5d8cc9" stroke-width="2.2"/>
<polygon points="816.5,119.6 812.2,128 820.8,128" fill="#5d8cc9"/>
<polygon points="934.3,236.3 925.4,232.2 925.4,240.4" fill="#5d8cc9"/>
<text transform="translate(802.2,185.8) rotate(-90)" text-anchor="middle" font-size="17.5" fill="#111" stroke="#111" stroke-width="0.3" textLength="52.5" lengthAdjust="spacingAndGlyphs" font-family='"Liberation Sans", sans-serif'>pg/ml</text>
<text x="846.9" y="254" font-size="16.6" fill="#111" stroke="#111" stroke-width="0.25" textLength="39.2" lengthAdjust="spacingAndGlyphs" font-family='"Liberation Sans", sans-serif'>Time</text>


<g font-family='"Liberation Sans", sans-serif' fill="#2a2a2a">
<line x1="690.3" y1="508" x2="690.3" y2="553.5" stroke="#e3e6ee" stroke-width="0.7"/>
<line x1="781.7" y1="508" x2="781.7" y2="553.5" stroke="#e3e6ee" stroke-width="0.7"/>
<line x1="863.3" y1="508" x2="863.3" y2="553.5" stroke="#e3e6ee" stroke-width="0.7"/>
<line x1="626.7" y1="541.2" x2="982" y2="541.2" stroke="#dcdcdc" stroke-width="0.7"/>
<line x1="626.7" y1="512.4" x2="982" y2="512.4" stroke="#505050" stroke-width="1.1"/>
<line x1="626.7" y1="528.4" x2="982" y2="528.4" stroke="#505050" stroke-width="1.1"/>
<line x1="626.7" y1="553.6" x2="982" y2="553.6" stroke="#505050" stroke-width="1.3"/>
<g font-size="11.7" text-anchor="middle" stroke="#2a2a2a" stroke-width="0.15">
<text x="657.8" y="524.8">Group</text>
<text x="735.4" y="524.8">Monkey number</text>
<text x="822.5" y="524.8" textLength="69" lengthAdjust="spacingAndGlyphs">Dose(mg/kg)</text>
<text x="922.9" y="524.8">administration route</text>
</g>
<g font-size="9.6" text-anchor="middle">
<text x="658" y="538.4" textLength="49.5" lengthAdjust="spacingAndGlyphs">Control drug</text>
<text x="735.4" y="538.4">6</text>
<text x="822" y="538.4">1</text>
<text x="922.8" y="538.4">SC</text>
<text x="658.4" y="551" textLength="44.2" lengthAdjust="spacingAndGlyphs">Test article</text>
<text x="735.4" y="551">6</text>
<text x="822" y="551">1</text>
<text x="922.8" y="551">SC</text>
</g>
</g>

</svg>
</body></html>
